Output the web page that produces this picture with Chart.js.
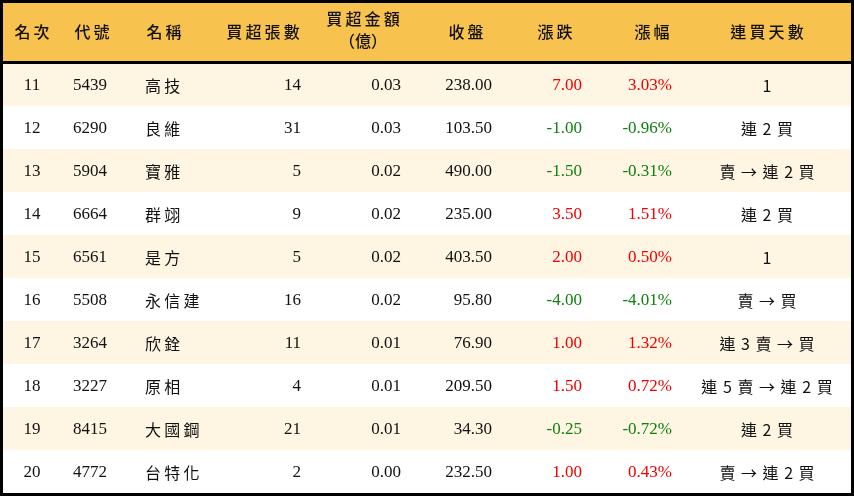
<!DOCTYPE html>
<html><head><meta charset="utf-8">
<script src="https://cdn.jsdelivr.net/npm/chart.js@4"></script>
<style>html,body{margin:0;padding:0;background:#fff}#wrap{width:854px;height:496px}</style>
</head><body><div id="wrap"><canvas id="c"></canvas></div>
<script>
const headers = ["名次","代號","名稱","買超張數","買超金額\n（億）","收盤","漲跌","漲幅","連買天數"];
const ranks = [11,12,13,14,15,16,17,18,19,20];
const codes = ["5439","6290","5904","6664","6561","5508","3264","3227","8415","4772"];
const names = ["高技","良維","寶雅","群翊","是方","永信建","欣銓","原相","大國鋼","台特化"];
const lots = [14,31,5,9,5,16,11,4,21,2];
const amounts = [0.03,0.03,0.02,0.02,0.02,0.02,0.01,0.01,0.01,0.00];
const closes = [238.00,103.50,490.00,235.00,403.50,95.80,76.90,209.50,34.30,232.50];
const changes = [7.00,-1.00,-1.50,3.50,2.00,-4.00,1.00,1.50,-0.25,1.00];
const pcts = [3.03,-0.96,-0.31,1.51,0.50,-4.01,1.32,0.72,-0.72,0.43];
const streaks = ["1","連 2 買","賣 → 連 2 買","連 2 買","1","賣 → 買","連 3 賣 → 買","連 5 賣 → 連 2 買","連 2 買","賣 → 連 2 買"];

const CJK = '"Noto Sans CJK TC"', NUM = '"Liberation Serif"';
const cols = [
  {x:32,a:'center'},{x:73,a:'left'},{x:145,a:'left'},{x:301,a:'right'},{x:401,a:'right'},
  {x:492,a:'right'},{x:582,a:'right'},{x:672,a:'right'},{x:767,a:'center'}
];
const headX = [32,92,164,263,363,466,555,652,767];

const tablePlugin = {
  id:'table',
  beforeDraw(chart){
    const ctx = chart.ctx;
    const W = chart.width, H = chart.height;
    const headH = 63, rowH = 43;
    ctx.save();
    ctx.fillStyle='#fff'; ctx.fillRect(0,0,W,H);
    ctx.fillStyle='#F8C24E'; ctx.fillRect(0,0,W,headH);
    ranks.forEach((r,i)=>{
      ctx.fillStyle = i%2===0 ? '#FEF5E2' : '#FFFFFF';
      ctx.fillRect(0,headH+i*rowH,W,rowH);
    });
    ctx.fillStyle='#000'; ctx.fillRect(0,headH-2,W,3);
    ctx.strokeStyle='#000'; ctx.lineWidth=3; ctx.strokeRect(1.5,1.5,W-3,H-3);
    ctx.textBaseline='middle'; ctx.fillStyle='#111';
    ctx.font='500 16px '+CJK;
    headers.forEach((h,j)=>{
      ctx.textAlign='center';
      const lines=h.split('\n');
      if(lines.length===1){ ctx.fillText(h.split('').join('\u2009'),headX[j],32); }
      else { ctx.fillText(lines[0].split('').join('\u2009'),headX[j],19); ctx.fillText(lines[1],headX[j],41); }
    });
    ranks.forEach((r,i)=>{
      const y = headH+i*rowH+rowH/2+1;
      const up = changes[i]>0;
      const col = up ? '#F00000' : '#108010';
      const cells = [
        [String(r),NUM,'#111'],[codes[i],NUM,'#111'],[names[i],CJK,'#111'],
        [String(lots[i]),NUM,'#111'],[amounts[i].toFixed(2),NUM,'#111'],
        [closes[i].toFixed(2),NUM,'#111'],[changes[i].toFixed(2),NUM,col],
        [pcts[i].toFixed(2)+'%',NUM,col],[streaks[i],CJK,'#111']
      ];
      cells.forEach((c,j)=>{
        ctx.textAlign=cols[j].a; ctx.fillStyle=c[2];
        if(c[1]===CJK){
          ctx.font='16px '+CJK;
          ctx.fillText(c[0].split('').join(j===8?'\u200A':'\u2009'),cols[j].x,y);
        } else { ctx.font='17px '+NUM; ctx.fillText(c[0],cols[j].x,y); }
      });
    });
    ctx.restore();
  }
};

new Chart(document.getElementById('c'),{
  type:'bar',
  data:{labels:ranks.map(String),datasets:[{data:lots,backgroundColor:'rgba(0,0,0,0)',borderWidth:0}]},
  options:{responsive:true,maintainAspectRatio:false,animation:false,
    layout:{padding:0},
    plugins:{legend:{display:false},tooltip:{enabled:false}},
    scales:{x:{display:false},y:{display:false}}},
  plugins:[tablePlugin]
});
</script></body></html>
